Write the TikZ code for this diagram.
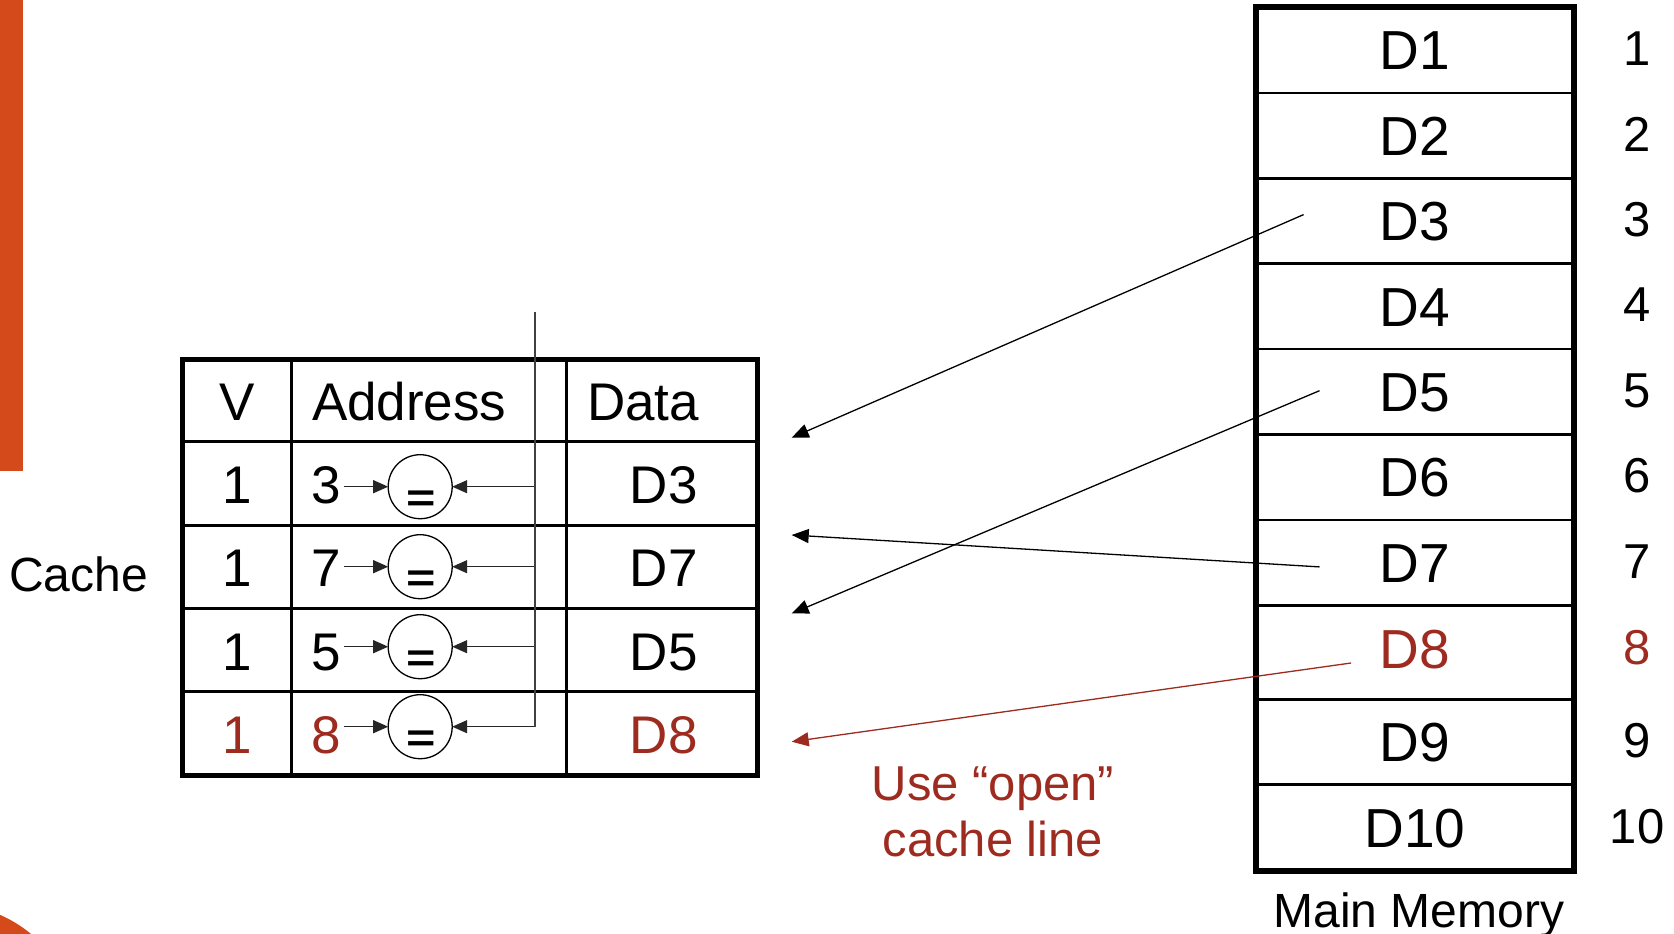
\documentclass[tikz,border=0pt]{standalone}
\usepackage{fontspec}
\setmainfont{Liberation Sans}
\usetikzlibrary{arrows.meta}
\definecolor{accent}{HTML}{D44A1A}
\definecolor{hitred}{HTML}{9E2B1F}

\begin{document}
\begin{tikzpicture}[x=1pt,y=-1pt,
  every node/.style={inner sep=0pt, outer sep=0pt},
  celltxt/.style={anchor=base, font=\fontsize{53}{60}\selectfont},
  memtxt/.style={anchor=base, font=\fontsize{55}{64}\selectfont},
  idxtxt/.style={anchor=base, font=\fontsize{49}{56}\selectfont},
  caption/.style={anchor=base, font=\fontsize{48}{56}\selectfont},
  note/.style={anchor=base, font=\fontsize{49}{56}\selectfont, text=hitred},
  thickbox/.style={line width=5pt},
  cellrule/.style={line width=3pt},
  memrule/.style={line width=2.5pt},
  cmp/.style={circle, draw, line width=1.3pt, minimum size=64pt},
  eqsign/.style={anchor=base, font=\fontsize{36}{40}\selectfont\bfseries},
  fetch/.style={line width=1.3pt, -{Triangle[length=17pt,width=14pt]}},
  probe/.style={line width=1.3pt, draw=black!85, fill=black, -{Triangle[length=15pt,width=13pt]}},
  bus/.style={line width=1.6pt, draw=black!75},
]
\useasboundingbox (0,0) rectangle (1674,934);

% slide decoration
\begin{scope}
  \clip (0,0) rectangle (1674,934);
  \fill[accent] (0,0) rectangle (22.7,471);
  \fill[accent] (-52,1034) circle[radius=130pt];
\end{scope}

% ---------- cache ----------
\node[caption] (cachelbl) at (78.5,591.5) {Cache};

% grid of the cache table
\foreach \ry in {441.7,525,608.3,691.7}
  \draw[cellrule] (182,\ry) -- (757.6,\ry);
\draw[cellrule] (291.7,359.2) -- (291.7,775);
\draw[cellrule] (566.9,359.2) -- (566.9,775);
\draw[thickbox] (182,359.2) rectangle (757.6,775);

% header
\node[celltxt] (hV) at (237.5,420) {V};
\node[celltxt, anchor=base west] (hAddr) at (312,420) {Address};
\node[celltxt, anchor=base west] (hData) at (587,420) {Data};

% address bus feeding the comparators
\coordinate (bustop) at (534.7,311.7);

\foreach \i/\b/\cy/\t/\dd/\clr in {1/503.3/486.7/3/D3/black,
                                   2/586.7/566.7/7/D7/black,
                                   3/670/646.7/5/D5/black,
                                   4/753.3/726.7/8/D8/hitred}{
  \node[celltxt, text=\clr] (v\i) at (237.5,\b) {1};
  \node[celltxt, anchor=base west, text=\clr] (tag\i) at (311.5,\b) {\t};
  \node[celltxt, text=\clr] (dat\i) at (663.7,\b) {\dd};
  \node[cmp] (cmp\i) at (420.2,\cy) {};
  \node[eqsign] (eq\i) at (421.3,\cy+25) {\scalebox{1.4}[1.1]{=}};
  \coordinate (tap\i) at (534.7,\cy);
  \draw[probe, shorten <=3pt] (tag\i.east |- cmp\i.west) -- (cmp\i.west);
  \draw[probe] (tap\i) -- (cmp\i.east);
}
\draw[bus] (bustop) -- (tap4);

% ---------- main memory ----------
\foreach \ry in {92.9,178.3,263.7,349.1,434.5,519.9,605.3,699.3,784.7}
  \draw[memrule] (1255.5,\ry) -- (1574,\ry);
\draw[line width=6pt] (1255.5,6.9) rectangle (1574,871);

\foreach \i/\cy/\clr in {1/49.9/black, 2/135.6/black, 3/221/black,
                         4/306.4/black, 5/391.8/black, 6/477.2/black,
                         7/562.6/black, 8/649/hitred, 9/742/black,
                         10/827.9/black}{
  \node[memtxt, text=\clr] (mem\i) at (1415,\cy+19.7) {D\i};
  \node[idxtxt, text=\clr] (idx\i) at (1637,\cy+15.5) {\i};
}
\node[caption] (memlbl) at (1419,927) {Main Memory};

% ---------- transfers into the cache ----------
\coordinate (src3) at (1303.6,214.6);
\coordinate (dst3) at (791.7,437.7);
\coordinate (src5) at (1319.5,390.7);
\coordinate (dst5) at (791.7,613.5);
\coordinate (src7) at (1319.5,566.9);
\coordinate (dst7) at (791.7,535);
\coordinate (src8) at (1351,663);
\coordinate (dst8) at (791.7,741.7);

\draw[fetch] (src3) -- (dst3);
\draw[fetch] (src5) -- (dst5);
\draw[fetch] (src7) -- (dst7);
\draw[fetch, draw=hitred, fill=hitred] (src8) -- (dst8);

\node[note] (noteA) at (993,800) {Use “open”};
\node[note] (noteB) at (993,856.5) {cache line};
\end{tikzpicture}
\end{document}
